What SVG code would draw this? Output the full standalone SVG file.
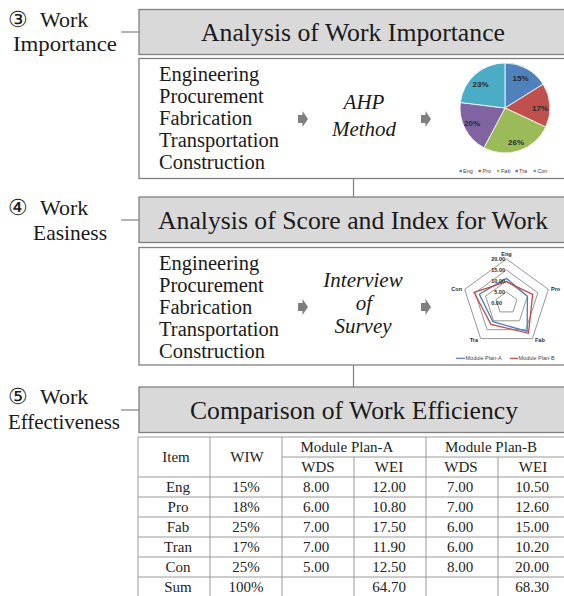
<svg xmlns="http://www.w3.org/2000/svg" width="564" height="596" viewBox="0 0 564 596">
  <defs>
    <style>
      .bg { fill: #ffffff; }
      .head { fill: #d9d9d9; stroke: #808080; stroke-width: 1.3; }
      .panel { fill: #ffffff; stroke: #808080; stroke-width: 1.3; }
      .link { fill: none; stroke: #808080; stroke-width: 1.2; }
      .arrow { fill: #7f7f7f; }
      .pielbl { font-family: "Liberation Sans", Arial, sans-serif; font-weight: bold; font-size: 8px; text-anchor: middle; fill: #2a2a2a; }
      .legend { font-family: "Liberation Sans", Arial, sans-serif; font-size: 5.5px; fill: #444444; }
      .slice { stroke: #ffffff; stroke-width: 0.8; }
      .ring { fill: none; stroke: #8a8a8a; stroke-width: 0.9; }
      .axis { font-family: "Liberation Sans", Arial, sans-serif; font-weight: bold; font-size: 5.5px; text-anchor: end; fill: #2a2a2a; }
      .vertex { font-family: "Liberation Sans", Arial, sans-serif; font-weight: bold; font-size: 5.5px; fill: #2a2a2a; }
      .grid { stroke: #9a9a9a; stroke-width: 1; fill: none; }
      .cell { font-family: "Liberation Serif", "Times New Roman", serif; font-size: 15px; fill: #222222; text-anchor: middle; }
    </style>
    <path id="blockArrow" d="M0,-4 H4.5 V-8 L10,0 L4.5,8 V4 H0 Z"/>
  </defs>

  <rect class="bg" x="0" y="0" width="564" height="596"/>

  <!-- connectors between the stages and from the step labels -->
  <g id="connectors">
    <line class="link" x1="121" y1="32" x2="139" y2="32"/>
    <line class="link" x1="121" y1="220" x2="139" y2="220"/>
    <line class="link" x1="121" y1="410" x2="139" y2="410"/>
    <line class="link" x1="353.5" y1="178.5" x2="353.5" y2="197"/>
    <line class="link" x1="353.5" y1="365" x2="353.5" y2="387"/>
  </g>

  <!-- step 3 -->
  <g id="step3-label" style="font-family:'Liberation Serif','Times New Roman',serif;font-size:22px;fill:#1a1a1a">
    <text y="26.5"><tspan x="8">③</tspan><tspan x="40">Work</tspan></text>
    <text x="13" y="51" textLength="104" lengthAdjust="spacingAndGlyphs">Importance</text>
  </g>
  <g id="step3-header">
    <rect class="head" x="139" y="9.5" width="440" height="45"/>
    <text x="353" y="40.5" textLength="304" lengthAdjust="spacingAndGlyphs" style="font-family:'Liberation Serif','Times New Roman',serif;font-size:25px;text-anchor:middle;fill:#1a1a1a">Analysis of Work Importance</text>
  </g>
  <g id="step3-body">
    <rect class="panel" x="139" y="58.5" width="440" height="120"/>
    <g style="font-family:'Liberation Serif','Times New Roman',serif;font-size:20.5px;fill:#1a1a1a">
      <text x="159" y="81">Engineering</text>
      <text x="159" y="103">Procurement</text>
      <text x="159" y="125">Fabrication</text>
      <text x="159" y="147">Transportation</text>
      <text x="159" y="169">Construction</text>
    </g>
    <use href="#blockArrow" class="arrow" x="298" y="119"/>
    <g style="font-family:'Liberation Serif','Times New Roman',serif;font-size:21px;font-style:italic;text-anchor:middle;fill:#1a1a1a">
      <text x="364" y="109">AHP</text>
      <text x="364" y="136">Method</text>
    </g>
    <use href="#blockArrow" class="arrow" x="421" y="119"/>
  </g>

  <!-- pie chart of work importance -->
  <g id="pie-chart">
    <path class="slice" fill="#4f81bd" d="M505,108 L505,63 A45,45 0 0 1 543.16,84.15 Z"/>
    <path class="slice" fill="#c0504d" d="M505,108 L543.16,84.15 A45,45 0 0 1 545.78,127.02 Z"/>
    <path class="slice" fill="#9bbb59" d="M505,108 L545.78,127.02 A45,45 0 0 1 483.87,147.73 Z"/>
    <path class="slice" fill="#8064a2" d="M505,108 L483.87,147.73 A45,45 0 0 1 460.34,102.51 Z"/>
    <path class="slice" fill="#4bacc6" d="M505,108 L460.34,102.51 A45,45 0 0 1 505,63 Z"/>
    <g class="pielbl">
      <text x="520.5" y="81">15%</text>
      <text x="540" y="110.5">17%</text>
      <text x="516" y="145">26%</text>
      <text x="472" y="126">20%</text>
      <text x="480.5" y="87">23%</text>
    </g>
    <g class="legend">
      <rect x="459.5" y="169.8" width="2.4" height="2.4" fill="#4f81bd"/>
      <text x="463" y="173">Eng</text>
      <rect x="478.5" y="169.8" width="2.4" height="2.4" fill="#c0504d"/>
      <text x="482.5" y="173">Pro</text>
      <rect x="497" y="169.8" width="2.4" height="2.4" fill="#9bbb59"/>
      <text x="501" y="173">Fab</text>
      <rect x="515.5" y="169.8" width="2.4" height="2.4" fill="#8064a2"/>
      <text x="519" y="173">Tra</text>
      <rect x="533.5" y="169.8" width="2.4" height="2.4" fill="#4bacc6"/>
      <text x="537.3" y="173">Con</text>
    </g>
  </g>

  <!-- step 4 -->
  <g id="step4-label" style="font-family:'Liberation Serif','Times New Roman',serif;font-size:22px;fill:#1a1a1a">
    <text y="215"><tspan x="8">④</tspan><tspan x="40">Work</tspan></text>
    <text x="33" y="240" textLength="74" lengthAdjust="spacingAndGlyphs">Easiness</text>
  </g>
  <g id="step4-header">
    <rect class="head" x="139" y="197" width="440" height="45.5"/>
    <text x="353" y="228.5" textLength="390" lengthAdjust="spacingAndGlyphs" style="font-family:'Liberation Serif','Times New Roman',serif;font-size:25px;text-anchor:middle;fill:#1a1a1a">Analysis of Score and Index for Work</text>
  </g>
  <g id="step4-body">
    <rect class="panel" x="139" y="247.5" width="440" height="117.5"/>
    <g style="font-family:'Liberation Serif','Times New Roman',serif;font-size:20.5px;fill:#1a1a1a">
      <text x="159" y="270">Engineering</text>
      <text x="159" y="292">Procurement</text>
      <text x="159" y="314">Fabrication</text>
      <text x="159" y="336">Transportation</text>
      <text x="159" y="358">Construction</text>
    </g>
    <use href="#blockArrow" class="arrow" x="298" y="307"/>
    <g style="font-family:'Liberation Serif','Times New Roman',serif;font-size:21px;font-style:italic;text-anchor:middle;fill:#1a1a1a">
      <text x="363" y="287">Interview</text>
      <text x="364" y="310">of</text>
      <text x="363" y="333">Survey</text>
    </g>
    <use href="#blockArrow" class="arrow" x="421" y="307"/>
  </g>

  <!-- radar chart of work easiness -->
  <g id="radar-chart">
    <polygon class="ring" points="506.5,259 548.35,289.4 532.36,338.6 480.64,338.6 464.65,289.4"/>
    <polygon class="ring" points="506.5,270 537.89,292.8 525.9,329.7 487.1,329.7 475.11,292.8"/>
    <polygon class="ring" points="506.5,281 527.42,296.2 519.43,320.8 493.57,320.8 485.58,296.2"/>
    <polygon class="ring" points="506.5,292 516.96,299.6 512.97,311.9 500.03,311.9 496.04,299.6"/>
    <polygon fill="none" stroke="#4a7ebb" stroke-width="1.3" points="506.5,278.4 527.42,296.2 527.19,331.48 492.92,321.69 479.3,294.16"/>
    <polygon fill="none" stroke="#be4b48" stroke-width="1.3" points="506.5,281.7 532.65,294.5 528.48,333.26 490.98,324.36 474.07,292.46"/>
    <g class="axis">
      <text x="505" y="261">20.00</text>
      <text x="505" y="272">15.00</text>
      <text x="505" y="283">10.00</text>
      <text x="505" y="294">5.00</text>
      <text x="502" y="305">0.00</text>
    </g>
    <g class="vertex">
      <text x="506.5" y="256" text-anchor="middle">Eng</text>
      <text x="551" y="291">Pro</text>
      <text x="535" y="342">Fab</text>
      <text x="478" y="342" text-anchor="end">Tra</text>
      <text x="462" y="291" text-anchor="end">Con</text>
    </g>
    <g class="legend">
      <line x1="456" y1="358.3" x2="465" y2="358.3" stroke="#4a7ebb" stroke-width="1.2"/>
      <text x="465.5" y="360.2">Module Plan-A</text>
      <line x1="510" y1="358.3" x2="518" y2="358.3" stroke="#be4b48" stroke-width="1.2"/>
      <text x="518.5" y="360.2">Module Plan-B</text>
    </g>
  </g>

  <!-- step 5 -->
  <g id="step5-label" style="font-family:'Liberation Serif','Times New Roman',serif;font-size:22px;fill:#1a1a1a">
    <text y="404"><tspan x="8">⑤</tspan><tspan x="40">Work</tspan></text>
    <text x="8" y="428.5" textLength="112" lengthAdjust="spacingAndGlyphs">Effectiveness</text>
  </g>
  <g id="step5-header">
    <rect class="head" x="139" y="387" width="440" height="45.5"/>
    <text x="354" y="418.5" textLength="328" lengthAdjust="spacingAndGlyphs" style="font-family:'Liberation Serif','Times New Roman',serif;font-size:25px;text-anchor:middle;fill:#1a1a1a">Comparison of Work Efficiency</text>
  </g>

  <!-- work efficiency table -->
  <g id="efficiency-table">
    <rect x="138" y="437" width="440" height="160" fill="#ffffff"/>
    <g class="grid">
      <line x1="138" y1="437" x2="578" y2="437"/>
      <line x1="282" y1="457" x2="578" y2="457"/>
      <line x1="138" y1="477" x2="578" y2="477"/>
      <line x1="138" y1="497" x2="578" y2="497"/>
      <line x1="138" y1="517" x2="578" y2="517"/>
      <line x1="138" y1="537" x2="578" y2="537"/>
      <line x1="138" y1="557" x2="578" y2="557"/>
      <line x1="138" y1="577" x2="578" y2="577"/>
      <line x1="138" y1="437" x2="138" y2="597"/>
      <line x1="210" y1="437" x2="210" y2="597"/>
      <line x1="282" y1="437" x2="282" y2="597"/>
      <line x1="354" y1="457" x2="354" y2="597"/>
      <line x1="426" y1="437" x2="426" y2="597"/>
      <line x1="498" y1="457" x2="498" y2="597"/>
    </g>
    <g class="cell">
      <text x="176" y="462">Item</text>
      <text x="247" y="462">WIW</text>
      <text x="347" y="452">Module Plan-A</text>
      <text x="491" y="452">Module Plan-B</text>
      <text x="318" y="472">WDS</text>
      <text x="389" y="472">WEI</text>
      <text x="461" y="472">WDS</text>
      <text x="533" y="472">WEI</text>

      <text x="178" y="492">Eng</text>
      <text x="246" y="492">15%</text>
      <text x="316" y="492">8.00</text>
      <text x="389" y="492">12.00</text>
      <text x="460" y="492">7.00</text>
      <text x="532" y="492">10.50</text>

      <text x="178" y="512">Pro</text>
      <text x="246" y="512">18%</text>
      <text x="316" y="512">6.00</text>
      <text x="389" y="512">10.80</text>
      <text x="460" y="512">7.00</text>
      <text x="532" y="512">12.60</text>

      <text x="178" y="532">Fab</text>
      <text x="246" y="532">25%</text>
      <text x="316" y="532">7.00</text>
      <text x="389" y="532">17.50</text>
      <text x="460" y="532">6.00</text>
      <text x="532" y="532">15.00</text>

      <text x="178" y="552">Tran</text>
      <text x="246" y="552">17%</text>
      <text x="316" y="552">7.00</text>
      <text x="389" y="552">11.90</text>
      <text x="460" y="552">6.00</text>
      <text x="532" y="552">10.20</text>

      <text x="178" y="572">Con</text>
      <text x="246" y="572">25%</text>
      <text x="316" y="572">5.00</text>
      <text x="389" y="572">12.50</text>
      <text x="460" y="572">8.00</text>
      <text x="532" y="572">20.00</text>

      <text x="178" y="592">Sum</text>
      <text x="246" y="592">100%</text>
      <text x="389" y="592">64.70</text>
      <text x="532" y="592">68.30</text>
    </g>
  </g>
</svg>
